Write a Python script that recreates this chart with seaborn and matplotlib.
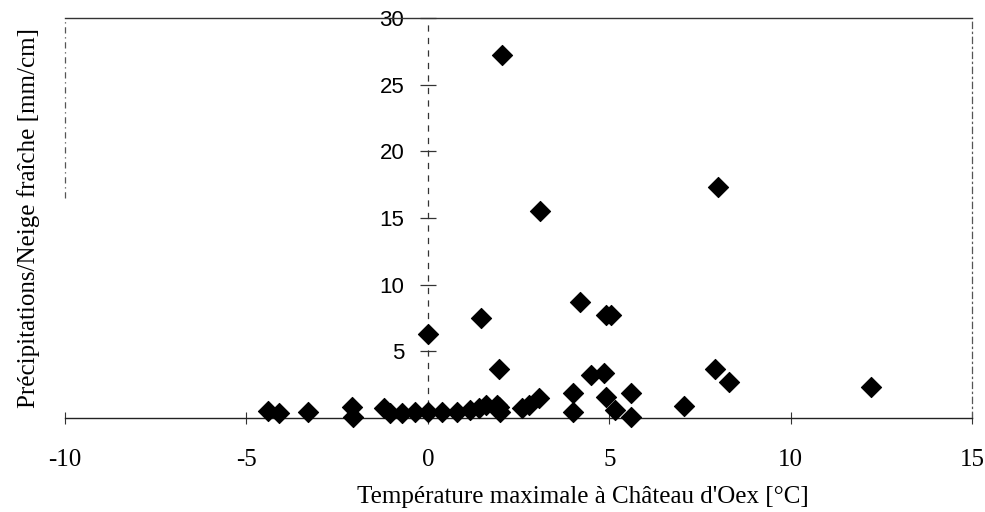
import numpy as np
import pandas as pd
import matplotlib
matplotlib.use("Agg")
import matplotlib.pyplot as plt
import seaborn as sns

# Values
temp_max = [-4.4, -4.1, -3.3, -2.1, -2.05, -1.2, -1.05, -0.7, -0.35, 0.0,
            0.4, 0.8, 1.15, 1.4, 1.6, 1.95, 2.0, 2.6, 2.8, 3.05,
            0.0, 1.45, 1.95, 1.9, 2.05, 3.1, 4.0, 4.0, 4.2, 4.5,
            4.85, 4.9, 5.05, 4.9, 5.15, 5.6, 5.6, 7.05, 7.9, 8.3,
            8.0, 12.2]
ratio = [0.5, 0.35, 0.45, 0.8, 0.1, 0.75, 0.35, 0.35, 0.45, 0.45,
         0.45, 0.45, 0.6, 0.75, 1.0, 0.8, 0.45, 0.75, 1.0, 1.5,
         6.3, 7.5, 3.7, 1.0, 27.2, 15.5, 1.9, 0.45, 8.7, 3.2,
         3.4, 7.7, 7.7, 1.6, 0.6, 1.9, 0.1, 0.9, 3.7, 2.7,
         17.3, 2.3]

x_ticks = [-10, -5, 0, 5, 10, 15]
y_ticks = [5, 10, 15, 20, 25, 30]

df = pd.DataFrame({'Tmax': temp_max, 'Ratio': ratio})

sns.set_style("white")
plt.rcParams['font.family'] = ['Liberation Serif', 'DejaVu Serif']
plt.rcParams['text.color'] = 'black'
plt.rcParams['xtick.color'] = 'black'
plt.rcParams['ytick.color'] = 'black'
plt.rcParams['axes.labelcolor'] = 'black'

fig = plt.figure(figsize=(9.85, 5.12), dpi=100)
ax = fig.add_axes([0.066, 0.1836, 0.921, 0.7814])

sns.scatterplot(data=df, x='Tmax', y='Ratio', marker='D', color='black',
                s=105, edgecolor='black', linewidth=0.8, ax=ax, clip_on=False, zorder=3)

ax.set_xlim(-10, 15)
ax.set_ylim(0, 30)

# y axis sits at x = 0, dashed like the scan
ax.spines['left'].set_position(('data', 0))
ax.spines['left'].set_linestyle((0, (4, 6)))
ax.spines['left'].set_linewidth(0.9)
ax.spines['left'].set_color('#333333')
ax.spines['bottom'].set_linewidth(1.0)
ax.spines['bottom'].set_color('#222222')
ax.spines['top'].set_linewidth(1.0)
ax.spines['top'].set_color('#333333')
ax.spines['right'].set_linestyle((0, (5, 3, 1, 3)))
ax.spines['right'].set_linewidth(0.9)
ax.spines['right'].set_color('#555555')
# left frame edge
ax.plot([0, 0], [0.55, 1.0], transform=ax.transAxes, color='#555555',
        lw=0.9, ls=(0, (5, 3, 1, 3)), clip_on=False)

ax.set_xticks(x_ticks)
ax.set_xticklabels([str(t) for t in x_ticks], fontsize=18)
ax.set_yticks(y_ticks)
ax.set_yticklabels([str(t) for t in y_ticks], fontsize=16,
                   family=['Liberation Sans', 'DejaVu Sans'])
ax.tick_params(axis='y', left=True, direction='inout', length=12, width=0.9, pad=11,
               color='#333333')
ax.tick_params(axis='x', bottom=True, direction='inout', length=8, width=0.8, pad=18,
               color='#333333')

ax.set_xlabel("Température maximale à Château d'Oex [°C]", fontsize=18)
ax.set_ylabel("Précipitations/Neige fraîche [mm/cm]", fontsize=18)
ax.xaxis.set_label_coords(0.571, -0.17)
ax.yaxis.set_label_coords(-0.028, 0.5)

fig.savefig('out.png', dpi=100)
